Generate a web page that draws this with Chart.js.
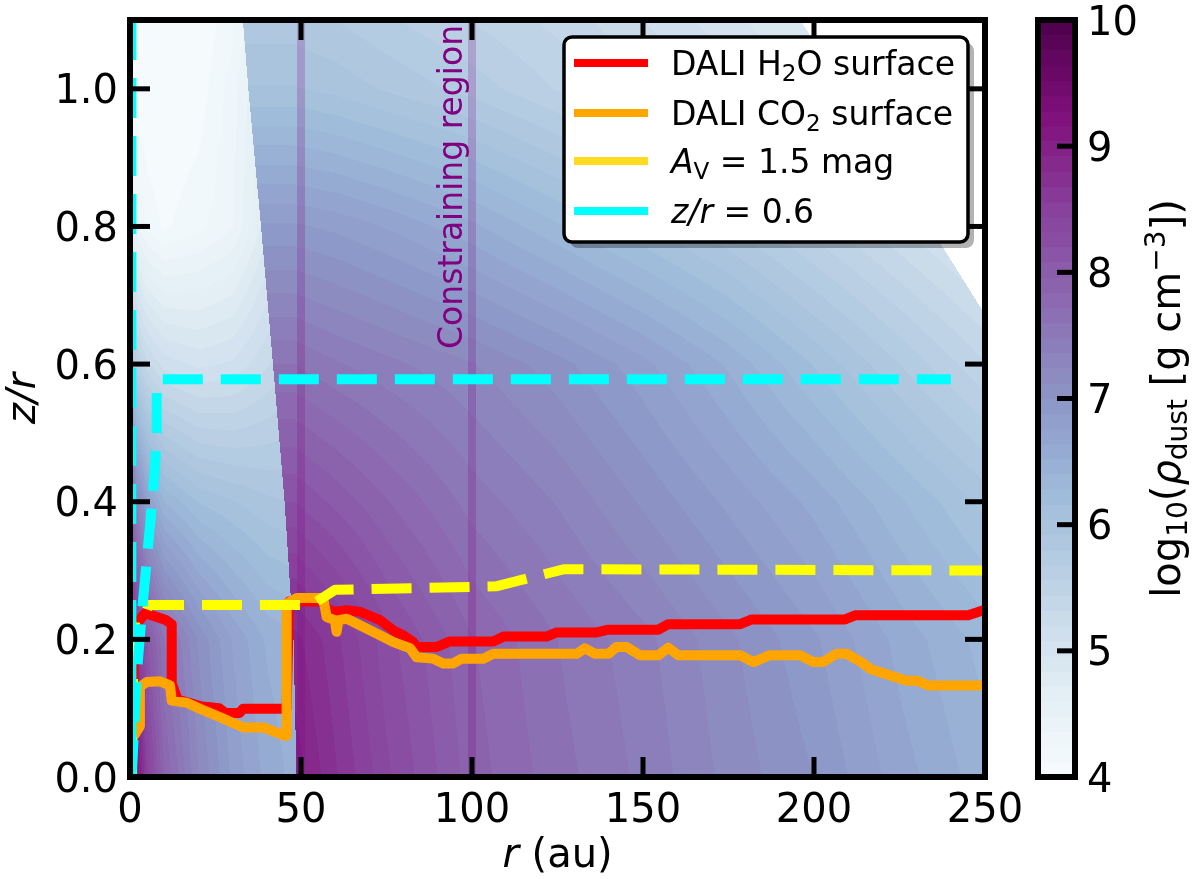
<!DOCTYPE html>
<html><head><meta charset="utf-8">
<script src="https://cdn.jsdelivr.net/npm/chart.js@4.4.1/dist/chart.umd.min.js"></script>
<style>html,body{margin:0;padding:0;background:#fff;}canvas{display:block;}</style>
</head><body>
<div style="position:relative;width:1200px;height:879px"><canvas id="c" width="1200" height="879"></canvas></div>
<script>
// ---------------- data ----------------
const xTicks = [0, 50, 100, 150, 200, 250];
const yTicks = [0, 0.2, 0.4, 0.6, 0.8, 1.0];
const cbTicks = [4, 5, 6, 7, 8, 9, 10];

const h2oR = [0.8, 1.0, 1.5, 4.4, 10.5, 12.2, 12.2, 14, 17, 20.5, 26, 28, 32, 33, 44.5, 45.8, 46.5, 56.5, 57.5, 59.5, 63.4, 67.3, 73.1, 77, 79.9, 82.8, 83.8, 89.7, 93.6, 106.2, 109.2, 121.8, 124.8, 136.4, 139.9, 154.5, 157.4, 178.4, 181.8, 209.1, 212, 245.1, 250];
const h2oZ = [0.10, 0.14, 0.22, 0.238, 0.228, 0.222, 0.136, 0.112, 0.108, 0.103, 0.100, 0.093, 0.093, 0.099, 0.099, 0.099, 0.255, 0.255, 0.245, 0.240, 0.2425, 0.240, 0.228, 0.213, 0.206, 0.196, 0.189, 0.189, 0.197, 0.197, 0.204, 0.204, 0.210, 0.210, 0.214, 0.214, 0.222, 0.222, 0.229, 0.229, 0.235, 0.235, 0.243];

const co2R = [1.2, 2.9, 2.9, 4.9, 8.8, 11.7, 12.2, 16.6, 20.5, 26.3, 33.1, 39, 45.3, 45.8, 45.8, 48.7, 56.5, 57.5, 59.9, 60.4, 61, 63.4, 73.1, 77, 81.9, 83.8, 88.7, 91.6, 94.5, 97, 103.3, 106.2, 130.6, 133, 136, 139.9, 142.3, 145.2, 149.1, 154.5, 157.4, 160.3, 178.4, 182.3, 187.1, 195.9, 199.8, 202.7, 206.6, 209.6, 214.4, 216.4, 227.1, 230, 233.4, 250];
const co2Z = [0.06, 0.074, 0.131, 0.138, 0.139, 0.133, 0.111, 0.108, 0.099, 0.087, 0.072, 0.072, 0.06, 0.06, 0.252, 0.26, 0.26, 0.2325, 0.228, 0.211, 0.228, 0.23, 0.206, 0.196, 0.187, 0.174, 0.172, 0.165, 0.165, 0.172, 0.172, 0.179, 0.179, 0.187, 0.179, 0.179, 0.189, 0.189, 0.177, 0.177, 0.188, 0.177, 0.177, 0.167, 0.177, 0.177, 0.167, 0.167, 0.179, 0.179, 0.165, 0.157, 0.140, 0.140, 0.133, 0.133];

const avR = [0.6, 0.8, 1.0, 1.5, 4.0, 5.5, 53, 60, 107, 127, 250];
const avZ = [0.0, 0.1, 0.2, 0.225, 0.23, 0.25, 0.25, 0.272, 0.277, 0.302, 0.300];

const zr06R = [0.4, 0.4, 1.0, 2.0, 3.5, 5.0, 6.5, 7.3, 7.8, 7.8, 8.5, 240];
const zr06Z = [1.1, 0.0, 0.05, 0.15, 0.24, 0.32, 0.40, 0.45, 0.50, 0.57, 0.578, 0.578];

const constrainR = [50, 100];

// log10 dust density
const gridZR = [0, 0.2, 0.4, 0.6, 0.8, 1.0, 1.1];
const outerR = [48, 60, 75, 100, 125, 150, 175, 200, 225, 250];
const outerRho = [
  [9.0, 8.7, 8.35, 7.9, 7.65, 7.45, 7.2, 7.0, 6.7, 6.45],
  [8.85, 8.6, 8.25, 7.85, 7.6, 7.4, 7.15, 6.9, 6.6, 6.35],
  [8.2, 8.05, 7.85, 7.55, 7.35, 7.1, 6.85, 6.6, 6.3, 6.0],
  [7.6, 7.5, 7.4, 7.25, 7.05, 6.8, 6.5, 6.15, 5.8, 5.45],
  [6.9, 6.85, 6.75, 6.55, 6.3, 6.05, 5.8, 5.5, 5.2, 4.9],
  [6.05, 6.0, 5.9, 5.75, 5.55, 5.35, 5.15, 4.95, 4.75, 4.55],
  [5.85, 5.8, 5.7, 5.55, 5.4, 5.2, 5.0, 4.8, 4.6, 4.4]
];
const innerR = [0, 2, 5, 10, 20, 30, 40, 50];
const innerRho = [
  [10.0, 9.2, 8.5, 7.85, 7.25, 6.85, 6.6, 6.45],
  [9.0, 8.6, 8.1, 7.6, 7.1, 6.75, 6.5, 6.4],
  [8.0, 7.3, 6.8, 6.4, 6.15, 6.05, 5.95, 5.9],
  [6.1, 5.6, 5.35, 5.15, 5.05, 5.1, 5.3, 5.5],
  [4.6, 4.4, 4.2, 4.1, 4.2, 4.35, 4.8, 5.0],
  [4.05, 4.02, 4.0, 4.0, 4.05, 4.3, 4.7, 4.9],
  [4.02, 4.0, 4.0, 4.0, 4.02, 4.2, 4.6, 4.8]
];
const cavityEdgeZ = [0, 0.2, 0.4, 0.6, 0.8, 1.0, 1.1];
const cavityEdgeR = [48.7, 47.8, 45.2, 41.8, 38.3, 34.6, 33.0];
const whiteEdgeZ = [0.672, 1.1];
const whiteEdgeR = [250, 196];

const legendLabels = [
  [{t: 'DALI H'}, {t: '2', sub: true}, {t: 'O surface'}],
  [{t: 'DALI CO'}, {t: '2', sub: true}, {t: ' surface'}],
  [{t: 'A', it: true}, {t: 'V', sub: true}, {t: ' = 1.5 mag'}],
  [{t: 'z/r', it: true}, {t: ' = 0.6'}]
];
const legendColors = ['#ff0000', '#ffa500', '#ffda1f', '#00ffff'];
const cbLabel = [{t: 'log'}, {t: '10', sub: true}, {t: '('}, {t: 'ρ', it: true}, {t: 'dust', sub: true}, {t: ' [g cm'}, {t: '−3', sup: true}, {t: '])'}];
const xTitle = [{t: 'r', it: true}, {t: ' (au)'}];
const yTitle = [{t: 'z/r', it: true}];
const regionText = 'Constraining region';

// ---------------- helpers ----------------
const FONT = '"DejaVu Sans", "Liberation Sans", sans-serif';
const BUPU = [[247,252,253],[224,236,244],[191,211,230],[158,188,218],[140,150,198],[140,107,177],[136,65,157],[129,15,124],[77,0,75]];
const VMIN = 4, VMAX = 10, LEVEL = 0.12;
function cmap(v) {
  let t = (v - VMIN) / (VMAX - VMIN); t = Math.max(0, Math.min(1, t));
  const p = t * 8, i = Math.min(7, Math.floor(p)), f = p - i, a = BUPU[i], b = BUPU[i + 1];
  return [a[0] + (b[0] - a[0]) * f, a[1] + (b[1] - a[1]) * f, a[2] + (b[2] - a[2]) * f];
}
function quant(v) {
  let k = Math.floor((v - VMIN) / LEVEL);
  const n = Math.round((VMAX - VMIN) / LEVEL);
  k = Math.max(0, Math.min(n - 1, k));
  return VMIN + (k + 0.5) * LEVEL;
}
function interp1(xs, ys, x) {
  if (x <= xs[0]) return ys[0];
  for (let i = 0; i < xs.length - 1; i++) {
    if (x <= xs[i + 1]) { const f = (x - xs[i]) / (xs[i + 1] - xs[i]); return ys[i] + (ys[i + 1] - ys[i]) * f; }
  }
  return ys[ys.length - 1];
}
function locate(arr, v) {
  let i = 0; while (i < arr.length - 2 && v > arr[i + 1]) i++;
  let f = (v - arr[i]) / (arr[i + 1] - arr[i]); f = Math.max(0, Math.min(1, f));
  return [i, f];
}
function bilinear(rs, tbl, r, j, fz) {
  const [i, fr] = locate(rs, r);
  const a = tbl[j][i] * (1 - fr) + tbl[j][i + 1] * fr;
  const b = tbl[j + 1][i] * (1 - fr) + tbl[j + 1][i + 1] * fr;
  return a * (1 - fz) + b * fz;
}
function drawRich(ctx, segs, x, y, size, align, rot, color) {
  ctx.save();
  ctx.translate(x, y);
  if (rot) ctx.rotate(rot);
  ctx.fillStyle = color || '#000';
  ctx.textBaseline = 'alphabetic'; ctx.textAlign = 'left';
  const fontOf = s => (s.it ? 'italic ' : '') + ((s.sub || s.sup) ? size * 0.7 : size) + 'px ' + FONT;
  let w = 0;
  const ws = segs.map(s => { ctx.font = fontOf(s); const m = ctx.measureText(s.t).width; w += m; return m; });
  let cx = align === 'center' ? -w / 2 : (align === 'right' ? -w : 0);
  segs.forEach((s, i) => {
    ctx.font = fontOf(s);
    const dy = s.sub ? size * 0.17 : (s.sup ? -size * 0.38 : 0);
    ctx.fillText(s.t, cx, dy);
    cx += ws[i];
  });
  ctx.restore();
}
const mk = (rs, zs) => rs.map((r, i) => ({x: r, y: zs[i]}));

// ---------------- plugins ----------------
const heatPlugin = {
  id: 'heat',
  beforeDatasetsDraw(chart) {
    const {ctx, chartArea: a, scales: {x, y}} = chart;
    const dpr = chart.currentDevicePixelRatio || 1;
    const W = Math.round((a.right - a.left) * dpr), H = Math.round((a.bottom - a.top) * dpr);
    if (!this._img || this._w !== W || this._h !== H) {
      const off = document.createElement('canvas'); off.width = W; off.height = H;
      const octx = off.getContext('2d'); const img = octx.createImageData(W, H); const d = img.data;
      const rAt = []; for (let i = 0; i < W; i++) rAt.push(x.getValueForPixel(a.left + (i + 0.5) / dpr));
      for (let j = 0; j < H; j++) {
        const zr = y.getValueForPixel(a.top + (j + 0.5) / dpr);
        const [jz, fz] = locate(gridZR, zr);
        const edge = interp1(cavityEdgeZ, cavityEdgeR, zr);
        const wb = zr >= whiteEdgeZ[0] ? interp1(whiteEdgeZ, whiteEdgeR, zr) : Infinity;
        for (let i = 0; i < W; i++) {
          const r = rAt[i];
          let col;
          if (r < edge) col = cmap(quant(bilinear(innerR, innerRho, r, jz, fz)));
          else if (r > wb) col = [255, 255, 255];
          else col = cmap(quant(bilinear(outerR, outerRho, r, jz, fz)));
          const k = (j * W + i) * 4;
          d[k] = col[0]; d[k + 1] = col[1]; d[k + 2] = col[2]; d[k + 3] = 255;
        }
      }
      octx.putImageData(img, 0, 0);
      this._img = off; this._w = W; this._h = H;
    }
    ctx.save();
    ctx.imageSmoothingEnabled = false;
    ctx.drawImage(this._img, a.left, a.top, a.right - a.left, a.bottom - a.top);
    ctx.restore();
  }
};

const TL = 20;
function seg(ctx, x1, y1, x2, y2) { ctx.beginPath(); ctx.moveTo(x1, y1); ctx.lineTo(x2, y2); ctx.stroke(); }

const overlayPlugin = {
  id: 'overlay',
  afterDatasetsDraw(chart) {
    const {ctx, chartArea: a, scales: {x, y}} = chart;
    // region label
    drawRich(ctx, [{t: regionText}], x.getPixelForValue(97.0), y.getPixelForValue(0.622), 33, 'left', -Math.PI / 2, '#800080');
    ctx.save();
    ctx.strokeStyle = '#000'; ctx.lineCap = 'butt';
    ctx.lineWidth = 5;
    xTicks.forEach(v => { const px = x.getPixelForValue(v); seg(ctx, px, a.bottom, px, a.bottom - TL); seg(ctx, px, a.top, px, a.top + TL); });
    yTicks.forEach(v => { const py = y.getPixelForValue(v); seg(ctx, a.left, py, a.left + TL, py); seg(ctx, a.right, py, a.right - TL, py); });
    ctx.lineWidth = 6;
    ctx.strokeRect(a.left, a.top, a.right - a.left, a.bottom - a.top);
    ctx.restore();
  },
  afterDraw(chart) {
    const {ctx, chartArea: a, scales: {x, y, cb}} = chart;
    ctx.save();
    ctx.fillStyle = '#000';
    ctx.font = '40px ' + FONT;
    ctx.textBaseline = 'alphabetic';
    ctx.textAlign = 'center';
    xTicks.forEach(v => ctx.fillText(String(v), x.getPixelForValue(v), a.bottom + 45));
    ctx.textAlign = 'right';
    yTicks.forEach(v => ctx.fillText(v.toFixed(1), a.left - 12, y.getPixelForValue(v) + 14.6));
    ctx.restore();
    drawRich(ctx, xTitle, (a.left + a.right) / 2, 867, 40, 'center', 0);
    drawRich(ctx, yTitle, 35, (a.top + a.bottom) / 2, 40, 'center', -Math.PI / 2);

    // colour bar
    const cbL = 1038, cbR = 1075;
    ctx.save();
    const n = Math.round((VMAX - VMIN) / LEVEL);
    for (let k = 0; k < n; k++) {
      const v0 = VMIN + k * LEVEL, v1 = v0 + LEVEL;
      const p0 = cb.getPixelForValue(v0), p1 = cb.getPixelForValue(v1);
      const c = cmap(v0 + LEVEL / 2);
      ctx.fillStyle = 'rgb(' + c.map(Math.round).join(',') + ')';
      ctx.fillRect(cbL, p1, cbR - cbL, p0 - p1 + 0.6);
    }
    ctx.strokeStyle = '#000'; ctx.lineWidth = 5;
    cbTicks.forEach(v => { const py = cb.getPixelForValue(v); seg(ctx, cbR, py, cbR - 18, py); });
    ctx.lineWidth = 6;
    ctx.strokeRect(cbL, cb.getPixelForValue(VMAX), cbR - cbL, cb.getPixelForValue(VMIN) - cb.getPixelForValue(VMAX));
    ctx.fillStyle = '#000'; ctx.font = '40px ' + FONT; ctx.textAlign = 'left'; ctx.textBaseline = 'alphabetic';
    cbTicks.forEach(v => ctx.fillText(String(v), 1087, cb.getPixelForValue(v) + 14.6));
    ctx.restore();
    drawRich(ctx, cbLabel, 1180, (cb.top + cb.bottom) / 2, 40, 'center', -Math.PI / 2);

    // legend
    const L = {x: 564, y: 37, w: 404, h: 205};
    ctx.save();
    ctx.fillStyle = 'rgba(0,0,0,0.3)';
    ctx.beginPath(); ctx.roundRect(L.x + 6, L.y + 6, L.w, L.h, 8); ctx.fill();
    ctx.fillStyle = '#fff'; ctx.strokeStyle = '#000'; ctx.lineWidth = 3.5;
    ctx.beginPath(); ctx.roundRect(L.x, L.y, L.w, L.h, 8); ctx.fill(); ctx.stroke();
    const rows = [63, 113, 161, 211];
    ctx.lineWidth = 8; ctx.lineCap = 'butt';
    rows.forEach((yc, i) => { ctx.strokeStyle = legendColors[i]; seg(ctx, 574, yc, 648, yc); });
    ctx.restore();
    rows.forEach((yc, i) => drawRich(ctx, legendLabels[i], 671, yc + 12, 33, 'left', 0));
  }
};

// ---------------- chart ----------------
const common = {showLine: true, pointRadius: 0, pointHoverRadius: 0, fill: false, tension: 0, borderJoinStyle: 'round', clip: 0};
new Chart(document.getElementById('c'), {
  type: 'scatter',
  data: {
    datasets: [
      Object.assign({label: 'z/r = 0.6', data: mk(zr06R, zr06Z), borderColor: '#00ffff', borderWidth: 10, borderDash: [40, 18], order: 1}, common),
      Object.assign({label: 'A_V = 1.5 mag', data: mk(avR, avZ), borderColor: '#ffff00', borderWidth: 10, borderDash: [40, 18], order: 2}, common),
      Object.assign({label: 'DALI CO2 surface', data: mk(co2R, co2Z), borderColor: '#ffa500', borderWidth: 10, order: 3}, common),
      Object.assign({label: 'DALI H2O surface', data: mk(h2oR, h2oZ), borderColor: '#ff0000', borderWidth: 10, order: 4}, common),
      Object.assign({label: 'r50', data: [{x: constrainR[0], y: 0}, {x: constrainR[0], y: 1.1}], borderColor: 'rgba(128,0,128,0.22)', borderWidth: 8, order: 5}, common),
      Object.assign({label: 'r100', data: [{x: constrainR[1], y: 0}, {x: constrainR[1], y: 1.1}], borderColor: 'rgba(128,0,128,0.22)', borderWidth: 8, order: 5}, common)
    ]
  },
  options: {
    responsive: false,
    animation: false,
    events: [],
    layout: {padding: {left: 0, right: 215, top: 20, bottom: 0}},
    plugins: {legend: {display: false}, tooltip: {enabled: false}},
    scales: {
      x: {
        type: 'linear', min: 0, max: 250,
        grid: {display: false, drawTicks: false}, border: {display: false}, ticks: {display: false},
        afterBuildTicks: s => { s.ticks = xTicks.map(v => ({value: v})); },
        afterFit: s => { s.height = 102; s.paddingLeft = 0; s.paddingRight = 0; }
      },
      y: {
        type: 'linear', min: 0, max: 1.1,
        grid: {display: false, drawTicks: false}, border: {display: false}, ticks: {display: false},
        afterBuildTicks: s => { s.ticks = yTicks.map(v => ({value: v})); },
        afterFit: s => { s.width = 130; s.paddingTop = 0; s.paddingBottom = 0; }
      },
      cb: {
        type: 'linear', axis: 'y', position: 'right', display: false, min: 4, max: 10,
        afterBuildTicks: s => { s.ticks = cbTicks.map(v => ({value: v})); }
      }
    }
  },
  plugins: [heatPlugin, overlayPlugin]
});
</script>
</body></html>
